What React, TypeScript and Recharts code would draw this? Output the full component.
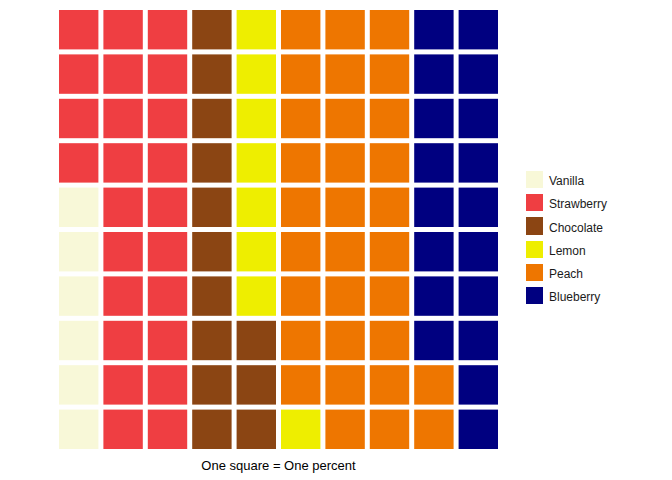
import React from "react";
import { ScatterChart, Scatter, XAxis, YAxis } from "recharts";

const flavors = ["Vanilla", "Strawberry", "Chocolate", "Lemon", "Peach", "Blueberry"];
const percents = [6, 24, 13, 8, 31, 18];
const colors = ["#F8F8D8", "#EF3E42", "#8B4513", "#EEEE00", "#EE7600", "#000080"];
const gridRows = 10;

// waffle layout: fill column by column, from the bottom-left
const series = (() => {
  let idx = 0;
  return flavors.map((name, k) => {
    const pts: { col: number; row: number }[] = [];
    for (let n = 0; n < percents[k]; n++) {
      pts.push({ col: Math.floor(idx / gridRows) + 1, row: (idx % gridRows) + 1 });
      idx++;
    }
    return { name, color: colors[k], pts };
  });
})();

const CELL = 39.4;

const Square = (p: any) => (
  <rect x={p.cx - CELL / 2} y={p.cy - CELL / 2} width={CELL} height={CELL} fill={p.fill} />
);

const LegendBlock = () => (
  <div
    style={{
      position: "absolute",
      left: 526,
      top: 171,
      fontFamily: "'Liberation Sans', Arial, sans-serif",
      fontSize: 12,
      color: "#1a1a1a",
    }}
  >
    {series.map((s) => (
      <div key={s.name} style={{ display: "flex", alignItems: "center", height: 17.3, marginBottom: 5.9 }}>
        <div style={{ width: 17.3, height: 17.3, background: s.color, marginRight: 5.7 }} />
        <span style={{ position: "relative", top: 1.5 }}>{s.name}</span>
      </div>
    ))}
  </div>
);

export default function App() {
  return (
    <div style={{ position: "absolute", left: 0, top: 0, width: 672, height: 480, background: "#fff" }}>
      <ScatterChart width={672} height={480} margin={{ top: 7.5, left: 56.5, right: 171.5, bottom: 0 }}>
        <XAxis
          type="number"
          dataKey="col"
          domain={[0.5, 10.5]}
          height={28.5}
          axisLine={false}
          tickLine={false}
          tick={false}
          label={{
            value: "One square = One percent",
            position: "insideBottom",
            offset: 10,
            fill: "#000",
            fontSize: 13,
            fontFamily: "'Liberation Sans', Arial, sans-serif",
          }}
        />
        <YAxis type="number" dataKey="row" domain={[0.5, 10.5]} hide />
        {series.map((s) => (
          <Scatter
            key={s.name}
            name={s.name}
            data={s.pts}
            fill={s.color}
            shape={Square}
            isAnimationActive={false}
          />
        ))}
      </ScatterChart>
      <LegendBlock />
    </div>
  );
}
